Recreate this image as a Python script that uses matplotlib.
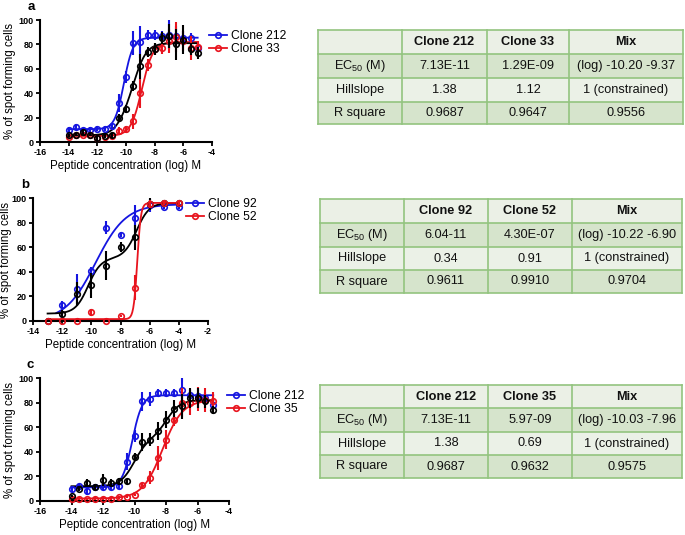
import numpy as np
import matplotlib
matplotlib.use('Agg')
import matplotlib.pyplot as plt
from matplotlib.lines import Line2D
from matplotlib.patches import Rectangle

plt.rcParams['font.family'] = ['Liberation Sans', 'DejaVu Sans']
plt.rcParams['axes.unicode_minus'] = False
plt.rcParams['mathtext.default'] = 'regular'

nan = np.nan
# ---------------- Panel a data ----------------
x_a = [-14, -13.5, -13, -12.5, -12, -11.5, -11, -10.5, -10, -9.5, -9, -8.5, -8, -7.5, -7, -6.5, -6, -5.5, -5]
blue_a = [10, 12.5, 9.5, 10, 11, 11, 13, 32, 53, 81, 82, 88, 88, 87, 88, 87, 85, 85, 77]
blue_a_err = [2, 2, 2, 2, 2, 2, 2, 7, 5, 10, 13, 4, 4, 4, 12, 8, 6, 4, 4]
black_a = [5.5, 6, 8, 6, 3, 5, 5.5, 20, 27, 46, 62, 74, 76, 85, 87, 80, 84, 76, 73]
black_a_err = [1, 1, 2, 1, 2, 2, 2, 3, 3, 4, 10, 4, 5, 5, 10, 13, 12, 5, 5]
red_a = [4, 6, 6, 6, 3, 4, 5, 9, 10.5, 17, 40, 63, 76, 77, 83, 86, 83, 77, 78]
red_a_err = [1, 1, 1, 1, 1, 1, 1, 3, 3, 6, 12, 5, 5, 5, 10, 12, 8, 10, 5]
labels_a = ['Clone 212', 'Clone 33']

# ---------------- Panel b data ----------------
x_b = [-13, -12, -11, -10, -9, -8, -7, -6, -5, -4]
blue_b = [nan, 13, 26, 41, 76, 70, 84, 94, 93, 93]
blue_b_err = [0, 3, 12, 3, 5, 2, 10, 5, 2, 2]
black_b = [0, 6, 22, 29, 45, 60, 68, 95, 96, 96]
black_b_err = [0, 3, 10, 10, 12, 4, 10, 5, 2, 2]
red_b = [0, 0, 0, 7, 0, 4, 27, 95, 96, 96]
red_b_err = [0, 0, 0, 3, 0, 1, 10, 3, 2, 2]
labels_b = ['Clone 92', 'Clone 52']

# ---------------- Panel c data ----------------
x_c = [-14, -13.5, -13, -12.5, -12, -11.5, -11, -10.5, -10, -9.5, -9, -8.5, -8, -7.5, -7, -6.5, -6, -5.5, -5]
blue_c = [9.5, 12, 8, 11, 11, 11, 12.5, 32, 53, 81, 83, 88, 88, 88, 90, 86, 85, 84, 78]
blue_c_err = [2, 2, 3, 2, 2, 2, 3, 7, 5, 8, 6, 3, 3, 3, 10, 5, 4, 5, 3]
black_c = [4, 10, 15, 11, 17, 15, 16, 16, 36, 48, 50, 57, 66, 75, 77, 84, 84, 81, 74]
black_c_err = [1, 2, 3, 3, 5, 3, 3, 2, 3, 7, 5, 7, 7, 7, 10, 8, 8, 5, 3]
red_c = [2, 2, 1.5, 2, 2, 2, 3, 3.5, 5, 13, 19, 35, 50, 66, 80, 80, 83, 82, 81]
red_c_err = [1, 1, 1, 1, 1, 1, 1, 1, 1, 2, 5, 10, 8, 5, 12, 10, 10, 10, 8]
labels_c = ['Clone 212', 'Clone 35']

# ---------------- Fit parameters ----------------
# single: (bottom, top, logEC50, hill, xstart, xend)
fit_a_blue = (10.5, 85.5, -10.15, 1.38, -14, -5)
fit_a_red = (5, 82, -8.89, 1.12, -14, -5)
# biphasic: (bottom, top, logEC1, logEC2, frac, xstart, xend)
fit_a_black = (5.5, 81, -10.20, -9.37, 0.3, -14, -5)

fit_b_blue = (0, 95, -9.7, 0.42, -12.4, -4)
fit_b_red = (1.5, 96, -6.85, 3.5, -13, -4)
fit_b_black = (6, 96, -10.22, -6.90, 0.5, -13, -4)

fit_c_blue = (11, 86, -10.15, 1.38, -14, -5)
fit_c_red = (2, 82, -8.22, 0.69, -14, -5)
fit_c_black = (12, 82, -10.03, -7.96, 0.55, -14, -5)

# ---------------- Tables ----------------
row_labels = ['EC$_{50}$ (M)', 'Hillslope', 'R square']
header_a = ['', 'Clone 212', 'Clone 33', 'Mix']
cells_a = [['7.13E-11', '1.29E-09', '(log) -10.20 -9.37'],
           ['1.38', '1.12', '1 (constrained)'],
           ['0.9687', '0.9647', '0.9556']]
header_b = ['', 'Clone 92', 'Clone 52', 'Mix']
cells_b = [['6.04-11', '4.30E-07', '(log) -10.22 -6.90'],
           ['0.34', '0.91', '1 (constrained)'],
           ['0.9611', '0.9910', '0.9704']]
header_c = ['', 'Clone 212', 'Clone 35', 'Mix']
cells_c = [['7.13E-11', '5.97-09', '(log) -10.03 -7.96'],
           ['1.38', '0.69', '1 (constrained)'],
           ['0.9687', '0.9632', '0.9575']]

BLUE = '#1515e0'
RED = '#e8141e'
BLACK = '#000000'
MS = 4.0
MEW = 1.2

W, H = 685, 535
fig = plt.figure(figsize=(W / 100, H / 100), dpi=100)


def px_axes(left, top, right, bottom):
    return fig.add_axes([left / W, 1 - bottom / H, (right - left) / W, (bottom - top) / H])


def sig(x, b, t, ec, h):
    return b + (t - b) / (1 + 10 ** ((ec - x) * h))


def draw_single(ax, p, color):
    b, t, ec, h, x0, x1 = p
    xx = np.linspace(x0, x1, 300)
    ax.plot(xx, sig(xx, b, t, ec, h), color=color, lw=1.3, zorder=2, clip_on=False)


def draw_bi(ax, p, color):
    b, t, e1, e2, f, x0, x1 = p
    xx = np.linspace(x0, x1, 300)
    yy = b + (t - b) * (f / (1 + 10 ** (e1 - xx)) + (1 - f) / (1 + 10 ** (e2 - xx)))
    ax.plot(xx, yy, color=color, lw=1.3, zorder=2, clip_on=False)


def draw_points(ax, x, y, e, color, z):
    ax.errorbar(x, y, yerr=e, fmt='o', ms=MS, mfc='none', mec=color, mew=MEW,
                ecolor=color, elinewidth=1.5, capsize=0, zorder=z, clip_on=False)


def style(ax, xlim, letter, ylpad=2):
    ax.set_xlim(*xlim)
    ax.set_ylim(0, 100)
    ax.set_xticks(np.arange(xlim[0], xlim[1] + 1, 2))
    ax.set_yticks([0, 20, 40, 60, 80, 100])
    for s in ['top', 'right']:
        ax.spines[s].set_visible(False)
    for s in ['left', 'bottom']:
        ax.spines[s].set_linewidth(1.5)
    ax.tick_params(direction='out', length=3, width=1.3, labelsize=6.5, pad=1.5)
    for lab in ax.get_xticklabels() + ax.get_yticklabels():
        lab.set_fontweight('bold')
    ax.set_xlabel('Peptide concentration (log) M', fontsize=8.3, labelpad=2)
    ax.set_ylabel('% of spot forming cells', fontsize=8.3, labelpad=ylpad)
    ax.text(-0.07, 1.06, letter, transform=ax.transAxes, fontsize=9.5,
            fontweight='bold', ha='left', va='bottom')


def add_legend(ax, labels, x, y):
    handles = [Line2D([], [], color=BLUE, marker='o', mfc='none', mec=BLUE, ms=MS, mew=MEW, lw=1.3),
               Line2D([], [], color=RED, marker='o', mfc='none', mec=RED, ms=MS, mew=MEW, lw=1.3)]
    fig.legend(handles, labels, loc='upper left', bbox_to_anchor=(x / W, 1 - y / H),
               frameon=False, fontsize=8.7, handlelength=1.5, handletextpad=0.3,
               labelspacing=0.12, borderpad=0, borderaxespad=0)


# Panel a
ax = px_axes(40, 20, 212, 142)
draw_single(ax, fit_a_blue, BLUE)
draw_single(ax, fit_a_red, RED)
draw_bi(ax, fit_a_black, BLACK)
draw_points(ax, x_a, blue_a, blue_a_err, BLUE, 3)
draw_points(ax, x_a, red_a, red_a_err, RED, 4)
draw_points(ax, x_a, black_a, black_a_err, BLACK, 5)
style(ax, (-16, -4), 'a')
add_legend(ax, labels_a, 209, 30)

# Panel b
ax = px_axes(33, 198, 208, 321)
draw_single(ax, fit_b_blue, BLUE)
draw_bi(ax, fit_b_black, BLACK)
draw_single(ax, fit_b_red, RED)
draw_points(ax, x_b, blue_b, blue_b_err, BLUE, 3)
draw_points(ax, x_b, black_b, black_b_err, BLACK, 4)
draw_points(ax, x_b, red_b, red_b_err, RED, 5)
style(ax, (-14, -2), 'b', ylpad=0)
add_legend(ax, labels_b, 186, 198)

# Panel c
ax = px_axes(40, 378, 229, 501)
draw_single(ax, fit_c_blue, BLUE)
draw_single(ax, fit_c_red, RED)
draw_bi(ax, fit_c_black, BLACK)
draw_points(ax, x_c, blue_c, blue_c_err, BLUE, 3)
draw_points(ax, x_c, red_c, red_c_err, RED, 4)
draw_points(ax, x_c, black_c, black_c_err, BLACK, 5)
style(ax, (-16, -4), 'c')
add_legend(ax, labels_c, 227, 390)

# Tables
tax = fig.add_axes([0, 0, 1, 1])
tax.set_xlim(0, W)
tax.set_ylim(H, 0)
tax.axis('off')
row_colors = ['#ebf0e6', '#d6e4cc', '#ebf1e7', '#d6e4cc']
border = '#93c47f'
TFS = 9.2


def draw_table(cols, rows, header, cells):
    for r in range(4):
        tax.add_patch(Rectangle((cols[0], rows[r]), cols[-1] - cols[0], rows[r + 1] - rows[r],
                                facecolor=row_colors[r], edgecolor='none'))
    for yv in rows:
        tax.plot([cols[0], cols[-1]], [yv, yv], color=border, lw=1.2)
    for xv in cols:
        tax.plot([xv, xv], [rows[0], rows[-1]], color=border, lw=1.2)
    for c in range(4):
        cx = (cols[c] + cols[c + 1]) / 2
        tax.text(cx, (rows[0] + rows[1]) / 2, header[c], ha='center', va='center',
                 fontsize=TFS, fontweight='bold', color='#111111')
    for r in range(3):
        cy = (rows[r + 1] + rows[r + 2]) / 2
        tax.text((cols[0] + cols[1]) / 2, cy, row_labels[r], ha='center', va='center',
                 fontsize=TFS, color='#111111')
        for c in range(3):
            cx = (cols[c + 1] + cols[c + 2]) / 2
            tax.text(cx, cy, cells[r][c], ha='center', va='center', fontsize=TFS, color='#111111')


draw_table([318, 402, 487, 569, 683], [30, 54, 78, 102, 124], header_a, cells_a)
draw_table([320, 404, 488, 572, 682], [199, 223, 247, 270, 293], header_b, cells_b)
draw_table([320, 404, 488, 572, 682], [385, 408, 432, 455, 478], header_c, cells_c)

fig.savefig('out.png', dpi=100)
